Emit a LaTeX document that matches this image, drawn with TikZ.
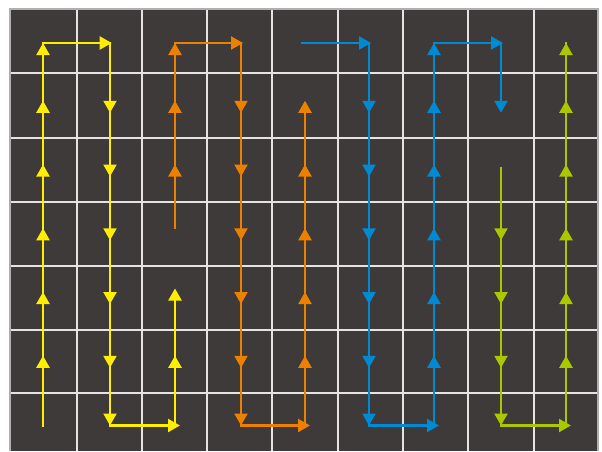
\documentclass[tikz,border=0pt]{standalone}
\usetikzlibrary{arrows.meta}
\definecolor{bg}{RGB}{62,58,57}
\definecolor{cy}{RGB}{255,238,0}
\definecolor{co}{RGB}{238,128,0}
\definecolor{cb}{RGB}{0,138,212}
\definecolor{cg}{RGB}{168,200,0}
\definecolor{gridc}{RGB}{228,228,228}
\definecolor{edgec}{RGB}{175,175,175}
\newcommand\rowy[1]{43+63.75*#1}
\tikzset{
  trail/.style={line width=2.2pt, line cap=rect},
  tip/.style={line width=2.2pt, -{Triangle[length=12pt,width=13pt]}},
  gridline/.style={gridc, line width=2pt},
}
\newcommand\upmark[3]{\draw[tip,#1] (#2,{#3+6}) -- (#2,{#3-6});}
\newcommand\downmark[3]{\draw[tip,#1] (#2,{#3-6}) -- (#2,{#3+6});}
\begin{document}
\begin{tikzpicture}[x=1pt,y=-1pt]
\useasboundingbox (0,0) rectangle (602,451);
\fill[white] (0,0) rectangle (602,451);
\fill[bg] (10,9) rectangle (598,451);
\foreach \x in {76.5,141.5,207,272,337.5,402.5,468,533.5}
  \draw[gridline] (\x,9) -- (\x,451);
\foreach \y in {73,137.5,202,266,330,393}
  \draw[gridline] (10,\y) -- (598,\y);
\draw[edgec, line width=1.2pt] (10,451) -- (10,9) -- (598,9) -- (598,451);

% yellow
\coordinate (y0) at (43,{\rowy6});
\coordinate (y1) at (43,{\rowy0});
\coordinate (y2) at (110,{\rowy0});
\coordinate (y3) at (110,{\rowy6});
\coordinate (y4) at (175,{\rowy6});
\coordinate (y5) at (175,{\rowy4});
\draw[trail,cy] (y0) -- (y1);
\draw[trail,cy] (y1) -- (y2);
\draw[trail,cy] (y2) -- (y3);
\draw[trail,cy] (y3) -- (y4);
\draw[trail,cy] (y4) -- (y5);
\foreach \j in {1,...,5} {\upmark{cy}{43}{\rowy\j}}
\draw[tip,cy] (43,{\rowy1}) -- (43,{\rowy0});
\draw[tip,cy] (43,{\rowy0}) -- (111.7,{\rowy0});
\foreach \j in {1,...,5} {\downmark{cy}{110}{\rowy\j}}
\draw[tip,cy] (110,{\rowy5}) -- (110,{\rowy6});
\draw[tip,cy] (110,{\rowy6}) -- (180,{\rowy6});
\upmark{cy}{175}{\rowy5}
\draw[tip,cy] (175,{\rowy4+2}) -- (175,{\rowy4-9.5});

% orange
\coordinate (o0) at (175,227.5);
\coordinate (o1) at (175,{\rowy0});
\coordinate (o2) at (241,{\rowy0});
\coordinate (o3) at (241,{\rowy6});
\coordinate (o4) at (305,{\rowy6});
\coordinate (o5) at (305,{\rowy1});
\draw[trail,co] (o0) -- (o1);
\draw[trail,co] (o1) -- (o2);
\draw[trail,co] (o2) -- (o3);
\draw[trail,co] (o3) -- (o4);
\draw[trail,co] (o4) -- (o5);
\foreach \j in {1,2} {\upmark{co}{175}{\rowy\j}}
\draw[tip,co] (175,{\rowy1}) -- (175,{\rowy0});
\draw[tip,co] (175,{\rowy0}) -- (243,{\rowy0});
\foreach \j in {1,...,5} {\downmark{co}{241}{\rowy\j}}
\draw[tip,co] (241,{\rowy5}) -- (241,{\rowy6});
\draw[tip,co] (241,{\rowy6}) -- (310,{\rowy6});
\foreach \j in {1,...,5} {\upmark{co}{305}{\rowy\j}}

% blue
\coordinate (b0) at (302,{\rowy0});
\coordinate (b1) at (369,{\rowy0});
\coordinate (b2) at (369,{\rowy6});
\coordinate (b3) at (434,{\rowy6});
\coordinate (b4) at (434,{\rowy0});
\coordinate (b5) at (501,{\rowy0});
\coordinate (b6) at (501,{\rowy1});
\draw[trail,cb] (b0) -- (b1);
\draw[trail,cb] (b1) -- (b2);
\draw[trail,cb] (b2) -- (b3);
\draw[trail,cb] (b3) -- (b4);
\draw[trail,cb] (b4) -- (b5);
\draw[trail,cb] (b5) -- (b6);
\draw[tip,cb] (302,{\rowy0}) -- (371,{\rowy0});
\foreach \j in {1,...,5} {\downmark{cb}{369}{\rowy\j}}
\draw[tip,cb] (369,{\rowy5}) -- (369,{\rowy6});
\draw[tip,cb] (369,{\rowy6}) -- (439,{\rowy6});
\foreach \j in {1,...,5} {\upmark{cb}{434}{\rowy\j}}
\draw[tip,cb] (434,{\rowy1}) -- (434,{\rowy0});
\draw[tip,cb] (434,{\rowy0}) -- (503,{\rowy0});
\downmark{cb}{501}{\rowy1}

% green
\coordinate (g0) at (501,168.5);
\coordinate (g1) at (501,{\rowy6});
\coordinate (g2) at (566,{\rowy6});
\coordinate (g3) at (566,{\rowy0});
\draw[trail,cg] (g0) -- (g1);
\draw[trail,cg] (g1) -- (g2);
\draw[trail,cg] (g2) -- (g3);
\foreach \j in {3,4,5} {\downmark{cg}{501}{\rowy\j}}
\draw[tip,cg] (501,{\rowy5}) -- (501,{\rowy6});
\draw[tip,cg] (501,{\rowy6}) -- (571,{\rowy6});
\foreach \j in {1,...,5} {\upmark{cg}{566}{\rowy\j}}
\draw[tip,cg] (566,{\rowy1}) -- (566,{\rowy0});
\end{tikzpicture}
\end{document}
